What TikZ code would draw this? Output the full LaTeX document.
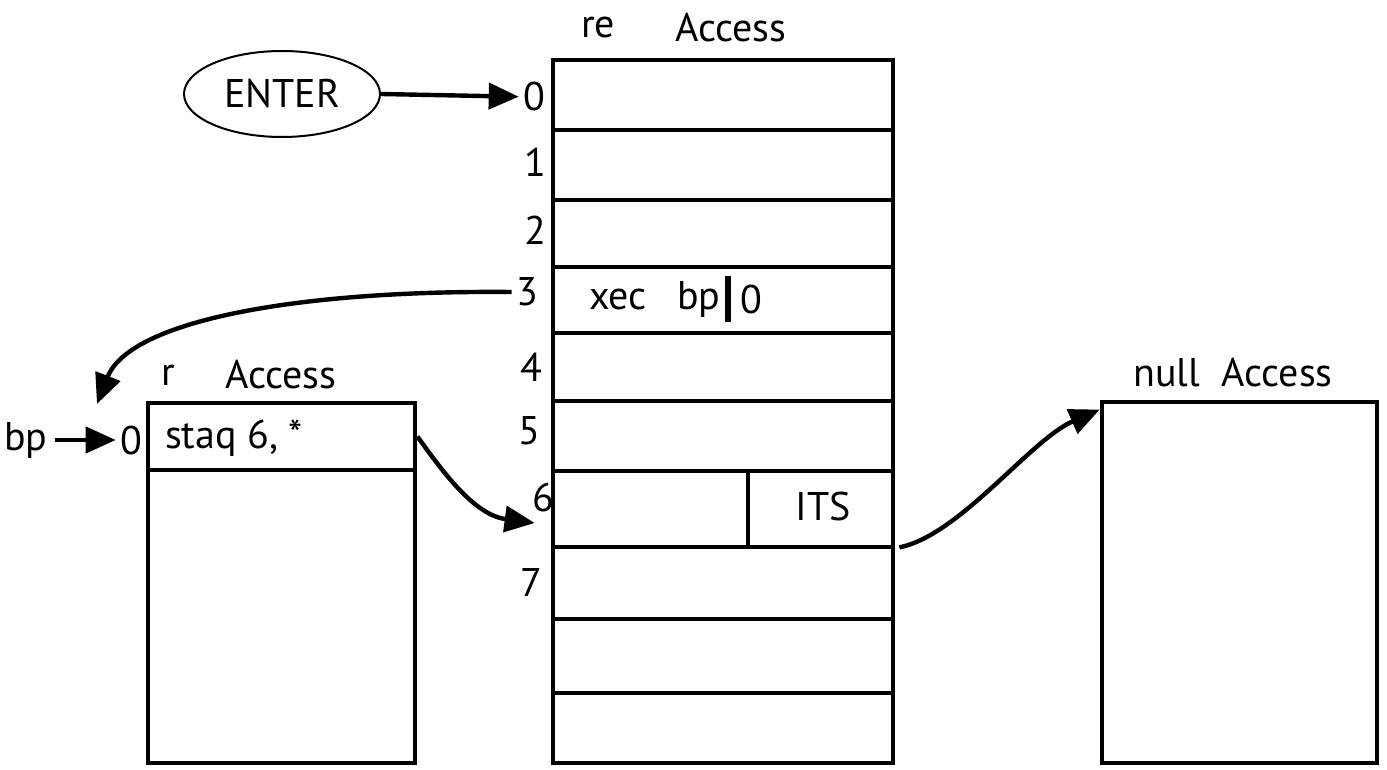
\documentclass[tikz,border=0pt]{standalone}
\usepackage{fontspec}
\setmainfont{PT Sans}
\usepackage{tikz}
\usetikzlibrary{arrows.meta,positioning,shapes.geometric,fit}

\begin{document}
\begin{tikzpicture}[x=0.5pt, y=-0.5pt, every node/.style={font=\fontsize{20}{22}\selectfont},
  cell/.style={draw, line width=2.4pt, inner sep=0pt},
  idx/.style={inner sep=2pt},
  ptr/.style={-{Triangle[length=15pt,width=13pt]}, line width=2.2pt}]
  \useasboundingbox (0,0) rectangle (1387,770);
  \foreach \n/\ya/\yb in {0/60/130,1/130/200,2/200/267,3/267/333,4/333/401,5/401/471,6/471/547,7/547/619,8/619/693,9/693/763}
    \node[cell, fit={(553,\ya) (893,\yb)}] (m\n) {};
  \draw[line width=2.4pt] (748,471) -- (748,547);
  \node at (598,28) {re};
  \node at (731,28) {Access};
  \foreach \n/\x/\y in {0/534/97,1/535/162,2/535/230,3/527/292,4/531/367,5/529/431,6/543/497,7/531/582}
    \node[idx] (i\n) at (\x,\y) {\n};
  \node (xec) at (618,300) {xec};
  \node (bpref) at (699,300) {bp};
  \draw[line width=3pt] (728,276) -- (728,322);
  \node (off) at (751,300) {0};
  \node (its) at (823,506) {ITS};
  \node[draw, ellipse, line width=1pt, minimum width=98pt, minimum height=43pt] (enter) at (282,94) {ENTER};
  \draw[ptr] (enter.east) -- (i0);
  \node (rname) at (168,375) {r};
  \node (raccess) at (281,375) {Access};
  \node[cell, fit={(148,403) (415,470)}] (r0) {};
  \node[cell, fit={(148,470) (415,763)}] (rbody) {};
  \node[anchor=west] (staq) at (158,438) {staq 6, *};
  \node (bp) at (26,440) {bp};
  \node[idx] (ri0) at (131,440) {0};
  \draw[ptr] (bp) -- (ri0);
  \node (nulltitle) at (1233,373) {null~~Access};
  \node[cell, fit={(1102,402) (1377,763)}] (nullbox) {};
  \coordinate (bptip) at (97,404);
  \draw[ptr] (i3.west) .. controls (300,290) and (130,320) .. (bptip);
  \draw[ptr] (r0.east) .. controls (445,475) and (475,515) .. ([xshift=-8pt,yshift=-7pt]m6.west);
  \draw[ptr] ([xshift=2pt,yshift=1pt]m6.south east) .. controls (960,535) and (1030,440) .. ([yshift=-5pt]nullbox.north west);
\end{tikzpicture}
\end{document}
